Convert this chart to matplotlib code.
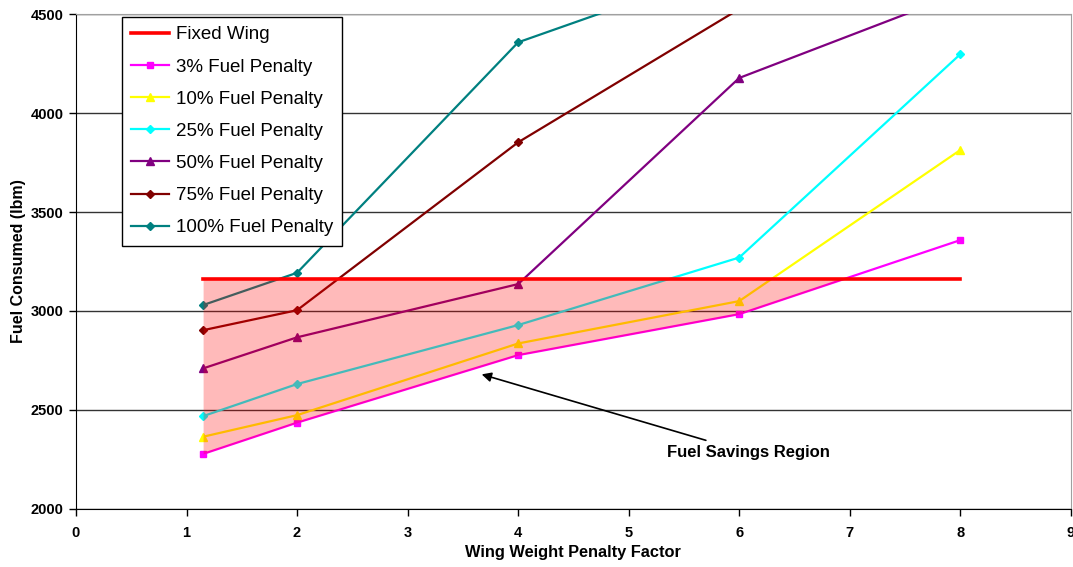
import numpy as np
from matplotlib import pyplot as plt

plt.rcParams['font.family'] = ['Liberation Sans', 'DejaVu Sans']

# wing weight penalty factor
factor = [1.15, 2, 4, 6, 8]

# fuel consumed (lbm) for each case
fixed_wing = [3162, 3162, 3162, 3162, 3162]
pen_3 = [2278, 2436, 2777, 2984, 3358]
pen_10 = [2365, 2474, 2836, 3050, 3813]
pen_25 = [2469, 2631, 2929, 3270, 4297]
pen_50 = [2710, 2867, 3136, 4177, 4605]
pen_75 = [2903, 3004, 3852, 4525, 5200]
pen_100 = [3030, 3193, 4357, 4750, 5300]

series = [
    ("3% Fuel Penalty", pen_3, "#FF00FF", "s", 5),
    ("10% Fuel Penalty", pen_10, "#FFFF00", "^", 6),
    ("25% Fuel Penalty", pen_25, "#00FFFF", "D", 4),
    ("50% Fuel Penalty", pen_50, "#800080", "^", 6),
    ("75% Fuel Penalty", pen_75, "#800000", "D", 4),
    ("100% Fuel Penalty", pen_100, "#008080", "D", 4),
]

fig = plt.figure(figsize=(10.73, 5.67), dpi=100)
ax = fig.add_axes([0.0708, 0.1023, 0.9272, 0.873])

handles = []
for label, vals, col, mk, ms in series:
    h, = ax.plot(factor, vals, color=col, lw=1.6, marker=mk, ms=ms,
                 label=label, zorder=3)
    handles.append(h)

# shaded region where the morphing wing beats the fixed wing
x = np.array(factor, dtype=float)
lo = np.array(pen_3, dtype=float)
hi = np.array(fixed_wing, dtype=float)
ax.fill_between(x, lo, hi, where=lo < hi, interpolate=True,
                color="#FF0000", alpha=0.27, lw=0, zorder=4)

h_fixed, = ax.plot(factor, fixed_wing, color="#FF0000", lw=2.6,
                   label="Fixed Wing", zorder=5)
handles.insert(0, h_fixed)

ax.annotate("Fuel Savings Region", xy=(3.67, 2680), xytext=(5.35, 2283),
            fontsize=12, fontweight="bold", va="center", ha="left",
            arrowprops=dict(arrowstyle="-|>", color="black", lw=1.2,
                            shrinkA=6, shrinkB=0, mutation_scale=14),
            zorder=6)

ax.set_xlim(0, 9)
ax.set_ylim(2000, 4500)
ax.set_xticks(range(0, 10))
ax.set_yticks(range(2000, 4501, 500))
ax.yaxis.grid(True, color="#333333", lw=1.0)
ax.set_axisbelow(True)
ax.tick_params(axis="both", direction="out", length=5, width=1,
               labelsize=10.5, pad=4)
ax.tick_params(axis="x", pad=7)
for lab in ax.get_xticklabels() + ax.get_yticklabels():
    lab.set_fontweight("bold")

ax.spines["left"].set_color("black")
ax.spines["bottom"].set_color("black")
ax.spines["top"].set_color("#A0A0A0")
ax.spines["right"].set_color("#A0A0A0")

ax.set_xlabel("Wing Weight Penalty Factor", fontsize=11.8, fontweight="bold",
              labelpad=4)
ax.set_ylabel("Fuel Consumed (lbm)", fontsize=11.5, fontweight="bold",
              labelpad=3)

leg = ax.legend(handles=handles, loc="upper left",
                bbox_to_anchor=(0.046, 0.994), borderaxespad=0,
                fontsize=13.5, fancybox=False, framealpha=1,
                edgecolor="black", handlelength=2.0, handletextpad=0.37,
                labelspacing=0.8, borderpad=0.5)
leg.get_frame().set_linewidth(1.0)
leg.set_zorder(10)

fig.savefig("out.png", dpi=100)
